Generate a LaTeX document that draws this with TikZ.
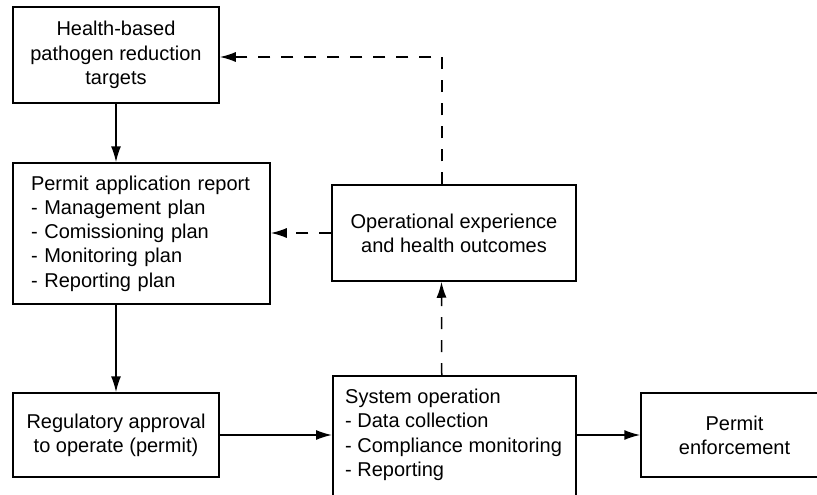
\documentclass[tikz,border=0pt]{standalone}
\usepackage{fontspec}
\setmainfont{Liberation Sans}
\usetikzlibrary{arrows.meta}
\begin{document}
\begin{tikzpicture}[x=1pt,y=-1pt,
  txt/.style={font=\fontsize{20}{24.3}\selectfont},
  box/.style={draw, line width=1.5pt, inner sep=0pt, txt, align=center},
  conn/.style={line width=1.5pt, -{Latex[length=16pt,width=10pt]}},
  dconn/.style={conn, dash pattern=on 12pt off 11pt}]
\useasboundingbox (0,0) rectangle (817,495);
\clip (0,0) rectangle (817,495);
\node[box, minimum width=206pt, minimum height=96pt] (b1) at (116,55) {Health-based\\pathogen reduction\\targets};
\node[box, minimum width=257pt, minimum height=141pt, text width=221pt, align=left] (b2) at (141.5,233.5) {Permit application report\\- Management plan\\- Comissioning plan\\- Monitoring plan\\- Reporting plan};
\node[box, minimum width=244pt, minimum height=96pt] (b3) at (454,233) {Operational experience\\and health outcomes};
\node[box, minimum width=206pt, minimum height=84pt] (b4) at (116,435) {Regulatory approval\\to operate (permit)};
\node[box, minimum width=243pt, minimum height=150pt, anchor=north west] (b5) at (332,375) {};
\node[txt, anchor=north west, inner sep=0pt, align=left] (t5) at (345,389) {System operation\\- Data collection\\- Compliance monitoring\\- Reporting};
\node[box, minimum width=187pt, minimum height=84pt] (b6) at (734.5,435) {Permit\\enforcement};
\coordinate (k) at (442,57);
\draw[conn] (b1.south) -- (b1.south |- b2.north);
\draw[conn] (b4.north |- b2.south) -- (b4.north);
\draw[conn] (b4.east) -- (b4.east -| b5.west);
\draw[conn] (b4.east -| b5.east) -- (b6.west);
\draw[dconn] ([xshift=-12.5pt]b5.north) -- ([xshift=-12.5pt]b3.south);
\draw[dconn] (b3.west) -- (b3.west -| b2.east);
\draw[dconn] (k |- b3.north) -- (k) -- (k -| b1.east);
\end{tikzpicture}
\end{document}
